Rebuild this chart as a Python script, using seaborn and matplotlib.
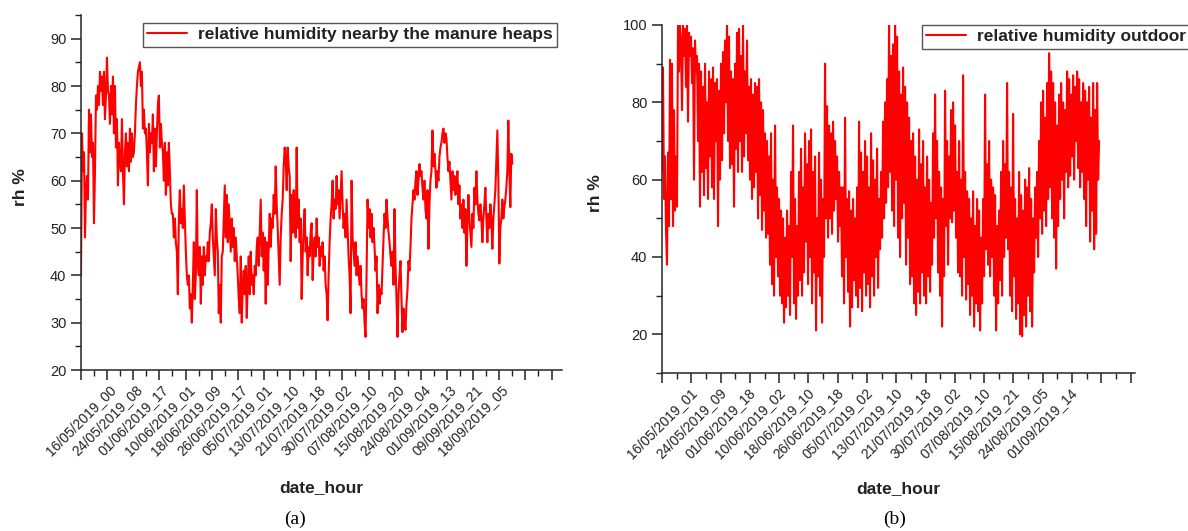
import numpy as np
import matplotlib
matplotlib.use('Agg')
import matplotlib.pyplot as plt
from matplotlib.ticker import MultipleLocator
import seaborn as sns

# (a) relative humidity nearby the manure heaps, hourly records 0..3300
# values, one every ~7.6 records
rh_heaps = [
    40, 70, 62, 66, 48, 58, 61, 56, 75, 66,
    74, 65, 68, 51, 62, 78, 75, 80, 76, 83,
    79, 82, 76, 83, 73, 78, 86, 79, 78, 72,
    80, 74, 82, 70, 80, 67, 73, 59, 68, 64,
    62, 73, 62, 55, 66, 70, 63, 68, 62, 71,
    64, 70, 65, 66, 70, 76, 80, 83, 84, 85,
    80, 83, 71, 75, 70, 71, 66, 59, 72, 66,
    70, 68, 74, 62, 71, 63, 70, 76, 78, 67,
    72, 68, 66, 60, 68, 57, 66, 59, 68, 62,
    55, 53, 53, 48, 52, 47, 45, 36, 52, 58,
    51, 54, 50, 59, 52, 45, 40, 38, 40, 33,
    36, 30, 38, 47, 35, 40, 58, 42, 40, 46,
    34, 44, 38, 46, 40, 44, 43, 47, 43, 49,
    51, 55, 48, 44, 40, 54, 48, 45, 32, 38,
    30, 44, 45, 52, 59, 48, 57, 47, 55, 50,
    45, 52, 46, 50, 43, 48, 44, 40, 35, 32,
    44, 30, 38, 41, 36, 42, 31, 38, 44, 36,
    45, 38, 40, 36, 42, 40, 46, 48, 42, 49,
    56, 44, 49, 41, 48, 34, 47, 38, 46, 53,
    46, 52, 50, 57, 53, 63, 55, 50, 44, 38,
    48, 53, 56, 63, 67, 65, 58, 67, 63, 61,
    43, 57, 49, 58, 52, 48, 67, 50, 56, 47,
    52, 35, 44, 50, 54, 45, 48, 40, 46, 44,
    49, 51, 39, 45, 48, 44, 52, 46, 48, 42,
    46, 44, 47, 41, 44, 38, 36, 30.5, 40, 47,
    52, 55, 60, 52, 56, 54, 61, 55, 58, 52,
    57, 62, 55, 50, 53, 48, 56, 50, 44, 40,
    32, 60, 48, 45, 42, 47, 40, 44, 41, 38,
    42, 36, 33, 35, 30, 27, 40, 56, 50, 54,
    48, 53, 47, 50, 46, 41, 44, 32, 38, 34,
    37, 36, 42, 48, 53, 50, 56, 52, 49, 47,
    44, 42, 45, 38, 54, 42, 35, 27, 36, 40,
    43, 35, 28, 33, 30, 28.5, 34, 37, 43, 41,
    46, 52, 55, 58, 56, 60, 62, 57, 60, 63.5,
    61, 62, 58.5, 56, 60, 54, 52, 58, 45.6, 55,
    60, 62, 70.6, 63, 65.7, 62, 58.5, 62, 60, 65,
    67, 68, 70, 71, 68, 70, 69, 65, 62, 64,
    60, 56, 62, 58, 61, 57, 59, 62, 55, 59,
    52, 55, 50, 56, 49, 54, 42, 50, 57, 52,
    49, 46, 53, 50, 58.5, 55, 62, 56, 53, 51.6,
    55, 52, 47, 52, 55, 58.5, 52, 47, 53, 50,
    55, 52, 45.6, 52, 55, 58, 64, 70.6, 60, 42.5,
    50, 52, 56, 52, 54.4, 56, 58.5, 62, 72.7, 62,
    54.4, 65.7, 63.6,
]
heaps_last_record = 3300
heaps_dates = [
    '16/05/2019_00', '24/05/2019_08', '01/06/2019_17', '10/06/2019_01',
    '18/06/2019_09', '26/06/2019_17', '05/07/2019_01', '13/07/2019_10',
    '21/07/2019_18', '30/07/2019_02', '07/08/2019_10', '15/08/2019_20',
    '24/08/2019_04', '01/09/2019_13', '09/09/2019_21', '18/09/2019_05',
]

# (b) relative humidity outdoor, hourly records 0..2985
rh_outdoor = [
    62, 89, 55, 66, 47, 38, 67, 48, 91, 55,
    90, 48, 78, 52, 66, 53, 100, 88, 100, 95,
    78, 100, 92, 99, 84, 100, 75, 98, 92, 97,
    85, 94, 60, 96, 88, 92, 70, 90, 53, 88,
    62, 84, 56, 90, 63, 80, 55, 88, 66, 86,
    58, 89, 55, 85, 70, 86, 48, 83, 60, 90,
    65, 93, 72, 96, 80, 100, 70, 97, 63, 88,
    64, 86, 53, 90, 68, 98, 62, 99, 70, 92,
    62, 100, 66, 88, 72, 96, 65, 84, 60, 86,
    55, 82, 58, 85, 62, 84, 50, 86, 56, 80,
    47, 78, 52, 72, 45, 70, 46, 66, 38, 72,
    33, 60, 30, 74, 40, 58, 35, 55, 30, 52,
    28, 50, 23, 45, 27, 52, 30, 48, 25, 62,
    40, 74, 28, 55, 24, 48, 30, 62, 34, 68,
    30, 58, 36, 72, 44, 64, 33, 70, 40, 73,
    28, 62, 36, 66, 21, 50, 35, 67, 30, 60,
    23, 55, 40, 90, 50, 79, 45, 74, 50, 72,
    46, 75, 52, 70, 55, 66, 44, 62, 48, 58,
    35, 58, 28, 76, 40, 55, 31, 57, 22, 52,
    27, 55, 34, 50, 30, 58, 27, 75, 32, 67,
    26, 62, 36, 70, 30, 66, 33, 58, 27, 72,
    35, 65, 30, 60, 40, 68, 32, 55, 42, 62,
    45, 75, 50, 80, 54, 86, 58, 100, 62, 92,
    52, 95, 48, 100, 60, 97, 45, 88, 40, 82,
    50, 89, 54, 84, 38, 80, 45, 76, 33, 70,
    35, 72, 28, 66, 25, 60, 31, 73, 28, 64,
    36, 70, 30, 58, 28, 66, 35, 60, 31, 54,
    38, 72, 45, 82, 50, 70, 36, 62, 30, 58,
    22, 55, 35, 83, 48, 70, 38, 66, 50, 78,
    49, 80, 52, 74, 45, 62, 36, 70, 35, 60,
    30, 87, 40, 62, 29, 57, 33, 55, 25, 50,
    30, 57, 22, 48, 28, 55, 26, 52, 21, 45,
    28, 55, 35, 82, 42, 64, 38, 70, 35, 60,
    40, 58, 30, 56, 21, 48, 28, 52, 34, 62,
    30, 70, 40, 64, 45, 85, 42, 62, 30, 58,
    26, 77, 35, 55, 24, 50, 28, 62, 20, 56,
    19.5, 52, 25, 60, 22, 58, 30, 63, 26, 55,
    22, 50, 36, 58, 45, 62, 40, 70, 50, 80,
    46, 83, 52, 76, 48, 85, 55, 92.7, 58, 88,
    50, 85, 45, 80, 37, 74, 48, 82, 55, 85,
    60, 80, 50, 78, 62, 88, 58, 86, 61, 82,
    66, 87, 60, 84, 70, 88, 63, 86, 58, 80,
    62, 85, 55, 83, 48, 80, 60, 84, 44, 76,
    52, 85, 42, 78, 46, 85, 60, 70,
]
outdoor_last_record = 2985
outdoor_dates = [
    '16/05/2019_01', '24/05/2019_09', '01/06/2019_18', '10/06/2019_02',
    '18/06/2019_10', '26/06/2019_18', '05/07/2019_02', '13/07/2019_10',
    '21/07/2019_18', '30/07/2019_02', '07/08/2019_10', '15/08/2019_21',
    '24/08/2019_05', '01/09/2019_14',
]

sns.set_style('ticks')
plt.rcParams['font.family'] = ['Liberation Sans', 'DejaVu Sans']
plt.rcParams['axes.linewidth'] = 1.1
TXT = '#222222'

fig = plt.figure(figsize=(11.88, 5.31), dpi=100)
ax_a = fig.add_axes([81 / 1188, 161 / 531, 481 / 1188, 355 / 531])
ax_b = fig.add_axes([662 / 1188, 158 / 531, 473 / 1188, 348 / 531])


def draw_panel(ax, values, last_record, dates, label, xmax, ylim, ymajor, yminor, leg_anchor):
    rec = np.linspace(0, last_record, len(values))
    sns.lineplot(x=rec, y=values, ax=ax, color='#ff0000', linewidth=1.5,
                 estimator=None, sort=False, label=label)

    ax.set_xlim(0, xmax)
    ax.set_ylim(*ylim)
    majors = np.arange(0, xmax, 200)
    ax.set_xticks(majors)
    ax.set_xticklabels(dates + [''] * (len(majors) - len(dates)),
                       rotation=45, ha='center', va='top', fontsize=10, color=TXT)
    ax.xaxis.set_minor_locator(MultipleLocator(100))
    ax.yaxis.set_major_locator(MultipleLocator(ymajor))
    ax.yaxis.set_minor_locator(MultipleLocator(yminor))
    ax.tick_params(axis='y', labelsize=10.5, labelcolor=TXT)
    ax.tick_params(which='major', length=7, width=1.1, color='#222222')
    ax.tick_params(which='minor', length=4, width=1.0, color='#222222')
    ax.tick_params(axis='x', which='major', pad=2)
    sns.despine(ax=ax)

    ax.set_xlabel('date_hour', fontsize=12.5, fontweight='bold', color=TXT)
    ax.set_ylabel('rh %', fontsize=12.5, fontweight='bold', color=TXT)
    ax.xaxis.set_label_coords(0.5, -0.31)

    leg = ax.legend(loc='upper left', bbox_to_anchor=leg_anchor, frameon=True,
                    fancybox=False, framealpha=1, borderpad=0.25, borderaxespad=0,
                    handlelength=2.3, handletextpad=0.6,
                    prop={'weight': 'bold', 'size': 12.5})
    leg.get_frame().set_edgecolor('#555555')
    leg.get_frame().set_linewidth(1.0)
    for t in leg.get_texts():
        t.set_color(TXT)
    return ax


draw_panel(ax_a, rh_heaps, heaps_last_record, heaps_dates,
           'relative humidity nearby the manure heaps', 3680, (20, 95), 10, 5,
           (62 / 481, 1 - 8 / 355))
ax_a.yaxis.set_label_coords(-0.11, 0.515)

draw_panel(ax_b, rh_outdoor, outdoor_last_record, outdoor_dates,
           'relative humidity outdoor', 3230, (10, 100), 20, 10,
           (260 / 473, 1.0))
ax_b.yaxis.set_label_coords(-0.125, 0.517)

fig.text(295 / 1188, 1 - 519 / 531, '(a)', ha='center', va='center',
         fontsize=14, family=['Liberation Serif', 'DejaVu Serif'], color='black')
fig.text(895 / 1188, 1 - 519 / 531, '(b)', ha='center', va='center',
         fontsize=14, family=['Liberation Serif', 'DejaVu Serif'], color='black')

fig.savefig('out.png', dpi=100, facecolor='white')
